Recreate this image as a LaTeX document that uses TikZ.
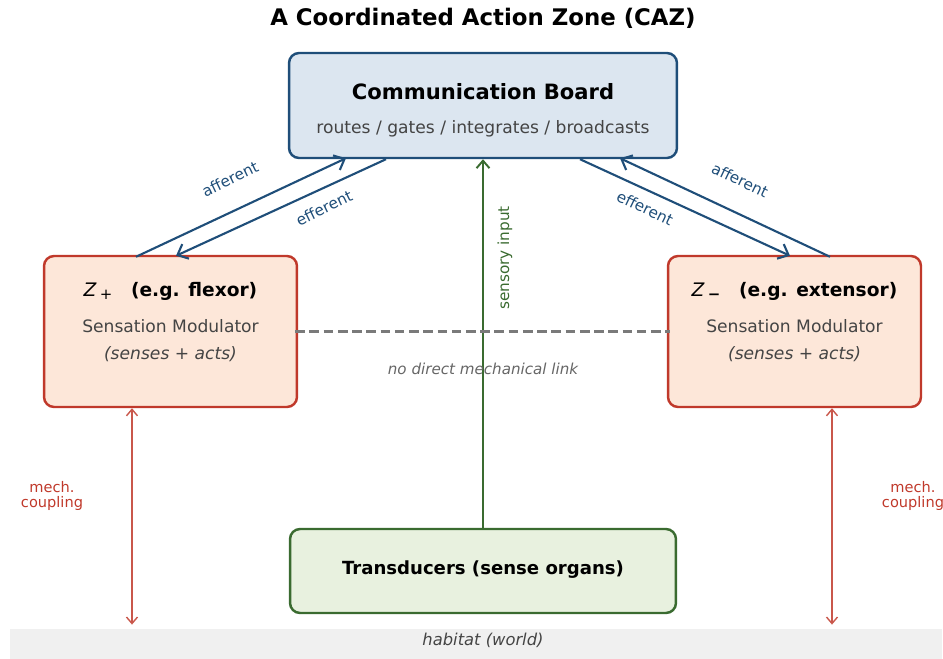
\documentclass[tikz,border=0pt]{standalone}
\usepackage{fontspec}
\setmainfont{DejaVu Sans}
\usetikzlibrary{arrows.meta,calc}

\definecolor{cazblue}{HTML}{1F4E79}
\definecolor{cazbluefill}{HTML}{DCE6F0}
\definecolor{cazred}{HTML}{C0392B}
\definecolor{cazredfill}{HTML}{FDE7D9}
\definecolor{cazgreen}{HTML}{3A6B30}
\definecolor{cazgreenfill}{HTML}{E8F1DF}
\definecolor{cazgray}{HTML}{444444}

\newcommand*{\fsz}[2]{\fontsize{#1}{#2}\selectfont}

\begin{document}
\begin{tikzpicture}[x=0.02cm, y=-0.02cm,
    box/.style={draw, rounded corners=2mm, line width=1.4pt, inner sep=0pt},
    zone/.style={box, draw=cazred, fill=cazredfill, minimum width=5.06cm, minimum height=3.02cm},
    link/.style={cazblue, line width=1.2pt, -{Straight Barb[length=1.8mm,width=3.2mm,line width=1.2pt]}},
    linklabel/.style={text=cazblue, font=\fsz{8.7}{10}},
    mech/.style={cazred!85, line width=0.8pt, {Straight Barb[length=1.3mm,width=2.2mm]}-{Straight Barb[length=1.3mm,width=2.2mm]}},
    sub/.style={text=cazgray, font=\fsz{9.75}{11}}]
  \useasboundingbox (0,0) rectangle (943,659);

  % title
  \node[font=\fsz{13}{15}\bfseries] (title) at (483,18) {A Coordinated Action Zone (CAZ)};

  % boxes
  \node[box, draw=cazblue, fill=cazbluefill, minimum width=7.76cm, minimum height=2.1cm] (board) at (483,105.5) {};
  \node[font=\fsz{12}{14}\bfseries] (boardname) at (483,92) {Communication Board};
  \node[sub] (boardsub) at (483,129) {routes / gates / integrates / broadcasts};

  \node[zone] (zp) at (170.5,331.5) {};
  \node[font=\fsz{10.6}{12}] (zpname) at (170.5,291) {\textit{Z}\,\raisebox{-0.3ex}{\fsz{8.5}{9}+}\quad\textbf{(e.g. flexor)}};
  \node[sub] (zpsub) at (170.5,326) {Sensation Modulator};
  \node[sub] (zpacts) at (170.5,354) {\itshape (senses + acts)};

  \node[zone] (zm) at (794.5,331.5) {};
  \node[font=\fsz{10.6}{12}] (zmname) at (794.5,291) {\textit{Z}\,\raisebox{-0.3ex}{\fsz{8.5}{9}\textbf{−}}\quad\textbf{(e.g. extensor)}};
  \node[sub] (zmsub) at (794.5,326) {Sensation Modulator};
  \node[sub] (zmacts) at (794.5,354) {\itshape (senses + acts)};

  \node[box, draw=cazgreen, fill=cazgreenfill, minimum width=7.72cm, minimum height=1.68cm] (trans) at (483,571) {};
  \node[font=\fsz{10.3}{12}\bfseries] (transname) at (483,570) {Transducers (sense organs)};

  \node[fill=black!6, minimum width=18.64cm, minimum height=0.6cm, inner sep=0pt] (hab) at (476,644) {};
  \node[text=cazgray, font=\fsz{9.3}{11}\itshape] (habname) at (483,640) {habitat (world)};

  % afferent / efferent
  \draw[link] ($(zp.north)+(-34.5,2)$) -- ($(board.south)+(-137,-1)$);
  \draw[link] ($(board.south)+(-97,0)$) -- ($(zp.north)+(5.5,1)$);
  \draw[link] ($(board.south)+(97,0)$) -- ($(zm.north)+(-4.5,1)$);
  \draw[link] ($(zm.north)+(35.5,2)$) -- ($(board.south)+(137,-1)$);
  \node[linklabel, rotate=25.7] (affl) at (230,179) {afferent};
  \node[linklabel, rotate=25.7] (effl) at (324,208) {efferent};
  \node[linklabel, rotate=-25.7] (effr) at (645,208) {efferent};
  \node[linklabel, rotate=-25.7] (affr) at (740,180) {afferent};

  % sensory input
  \draw[cazgreen, line width=1.1pt, -{Straight Barb[length=1.5mm,width=2.6mm,line width=1.1pt]}] (trans.north) -- (board.south);
  \node[text=cazgreen, font=\fsz{8.7}{10}, rotate=90] (sensl) at (505,258) {sensory input};

  % no link
  \draw[black!52, line width=1.3pt, dash pattern=on 5.5pt off 2.6pt] ($(zp.east)+(-3,0)$) -- ($(zm.west)+(3,0)$);
  \node[text=black!60, font=\fsz{8.6}{10}\itshape] (nolink) at (483,369) {no direct mechanical link};

  % mechanical coupling
  \foreach \z/\dx/\lx in {zp/-38.5/52, zm/37.5/913}{
    \draw[mech] let \p1=($(\z.south)+(\dx,0)$), \p2=(hab.north) in (\x1,\y1) -- (\x1,\y2+2.3pt);
    \node[text=cazred, font=\fsz{8.3}{9}, align=center] (mech\z) at (\lx,496) {mech.\\coupling};
  }
\end{tikzpicture}
\end{document}
